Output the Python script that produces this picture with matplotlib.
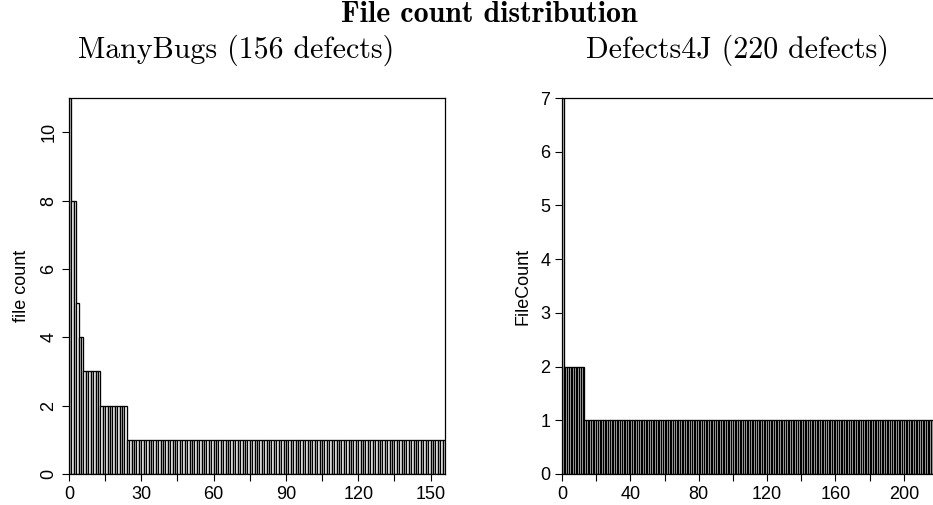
import numpy as np
import matplotlib
matplotlib.use('Agg')
import matplotlib.pyplot as plt

# file count per defect, grouped: value -> number of defects with that value
mb_valores = [11, 8, 5, 4, 3, 2, 1]
mb_defectos = [1, 2, 1, 2, 7, 11, 132]
d4j_valores = [7, 2, 1]
d4j_defectos = [1, 12, 207]

mb_xticks = list(range(0, 151, 15))
mb_xlabels = ['0', '', '30', '', '60', '', '90', '', '120', '', '150']
d4j_xticks = list(range(0, 221, 20))
d4j_xlabels = ['0', '', '40', '', '80', '', '120', '', '160', '', '200', '']

mb = np.repeat(mb_valores, mb_defectos)
d4j = np.repeat(d4j_valores, d4j_defectos)

plt.rcParams['font.family'] = ['Liberation Sans', 'DejaVu Sans']

fig = plt.figure(figsize=(9.33, 5.05), dpi=100)
ax1 = fig.add_axes([69 / 933, 31 / 505, 376 / 933, 376 / 505])
ax2 = fig.add_axes([562 / 933, 31 / 505, 376 / 933, 376 / 505])

for ax, datos in [(ax1, mb), (ax2, d4j)]:
    ax.bar(np.arange(len(datos)), datos, width=1, align='edge',
           facecolor='white', edgecolor='black', linewidth=0.95)
    ax.set_xlim(0, len(datos))
    ax.tick_params(length=5, width=0.8, labelsize=13, color='black')
    for s in ax.spines.values():
        s.set_linewidth(0.9)

ax1.set_ylim(0, 11)
ax1.set_xticks(mb_xticks)
ax1.set_xticklabels(mb_xlabels)
ax1.set_yticks([0, 2, 4, 6, 8, 10])
ax1.set_yticklabels(['0', '2', '4', '6', '8', '10'], rotation=90, va='center')
ax1.set_ylabel('file count', fontsize=13)
ax1.yaxis.set_label_coords(-0.105, 0.5)

ax2.set_ylim(0, 7)
ax2.set_xticks(d4j_xticks)
ax2.set_xticklabels(d4j_xlabels)
ax2.set_yticks(range(0, 8))
ax2.set_ylabel('FileCount', fontsize=13)
ax2.yaxis.set_label_coords(-0.08, 0.5)

fig.text(489 / 933, 1 - 15 / 505, 'File count distribution', family='cmb10',
         fontsize=21.5, ha='center', va='center')
fig.text(236 / 933, 1 - 50 / 505, 'ManyBugs (156 defects)', family='cmr10',
         fontsize=21.5, ha='center', va='center')
fig.text(737 / 933, 1 - 50 / 505, 'Defects4J (220 defects)', family='cmr10',
         fontsize=21.5, ha='center', va='center')

plt.savefig('out.png', dpi=100)
